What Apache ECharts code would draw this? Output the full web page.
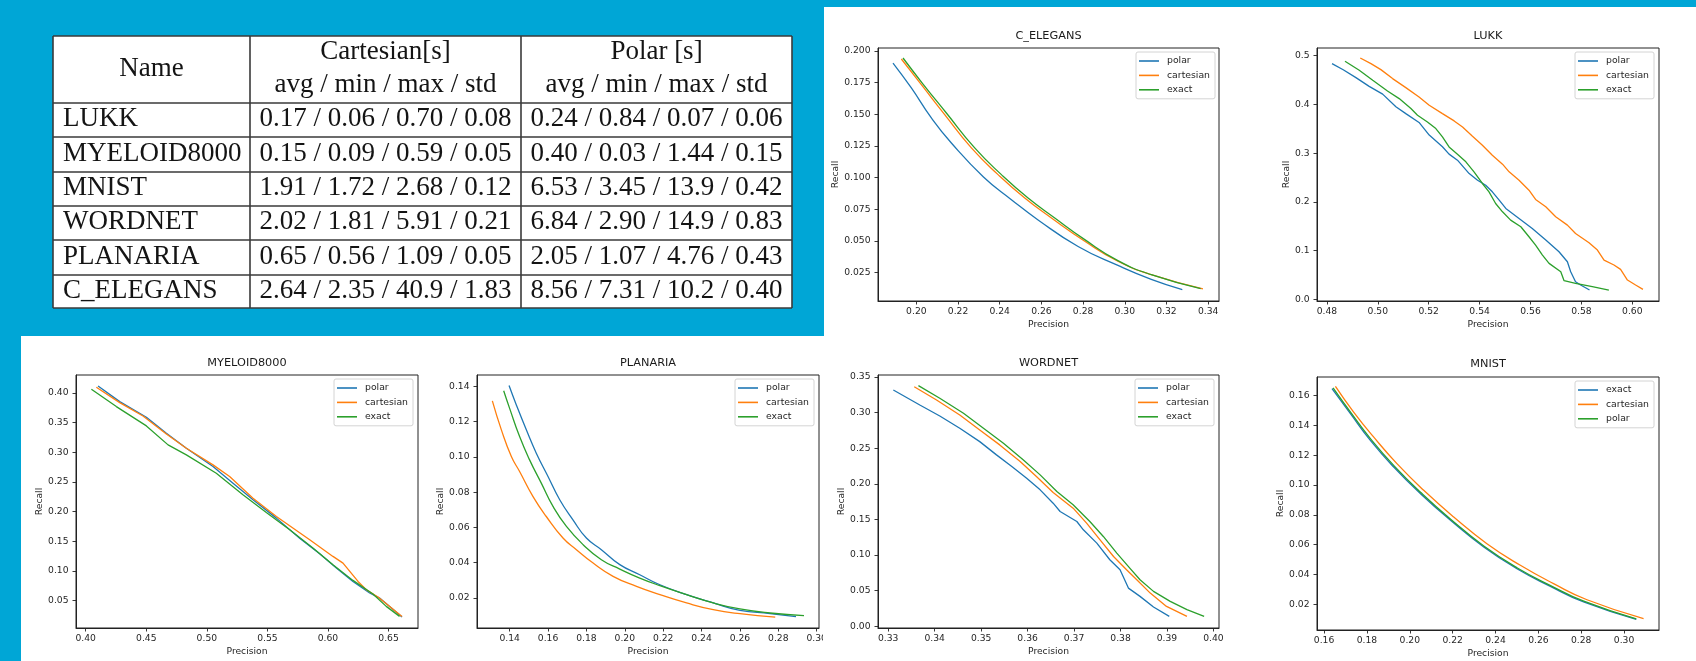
<!DOCTYPE html>
<html><head><meta charset="utf-8">
<script src="https://cdn.jsdelivr.net/npm/echarts@6.0.0/dist/echarts.min.js"></script>
<style>html,body{margin:0;padding:0;background:#00a6d6;overflow:hidden}#main{width:1696px;height:661px}</style>
</head><body><div id="main"></div>
<script>
// ---------- table data ----------
const tableHeaderName = 'Name';
const tableHeaderGroups = ['Cartesian[s]', 'Polar [s]'];
const tableHeaderStats = 'avg / min / max / std';
const tableNames = ['LUKK', 'MYELOID8000', 'MNIST', 'WORDNET', 'PLANARIA', 'C_ELEGANS'];
const cartesianStats = ['0.17 / 0.06 / 0.70 / 0.08', '0.15 / 0.09 / 0.59 / 0.05', '1.91 / 1.72 / 2.68 / 0.12', '2.02 / 1.81 / 5.91 / 0.21', '0.65 / 0.56 / 1.09 / 0.05', '2.64 / 2.35 / 40.9 / 1.83'];
const polarStats = ['0.24 / 0.84 / 0.07 / 0.06', '0.40 / 0.03 / 1.44 / 0.15', '6.53 / 3.45 / 13.9 / 0.42', '6.84 / 2.90 / 14.9 / 0.83', '2.05 / 1.07 / 4.76 / 0.43', '8.56 / 7.31 / 10.2 / 0.40'];

const xAxisTitle = 'Precision';
const yAxisTitle = 'Recall';

// ---------- C_ELEGANS ----------
const celegansPolar = [[0.1888,0.1905],[0.1976,0.1708],[0.2072,0.1471],[0.2168,0.1273],[0.2322,0.1005],[0.2456,0.0825],[0.2584,0.0665],[0.2776,0.0455],[0.2967,0.0305],[0.3127,0.0195],[0.3276,0.0114]];
const celegansCartesian = [[0.1928,0.1937],[0.2024,0.1734],[0.2136,0.1497],[0.2264,0.1234],[0.2392,0.1023],[0.252,0.0838],[0.2648,0.068],[0.2808,0.0496],[0.2967,0.0338],[0.3127,0.0232],[0.3375,0.012]];
const celegansExact = [[0.1936,0.1945],[0.2032,0.1739],[0.2144,0.151],[0.228,0.1234],[0.2408,0.1023],[0.2536,0.0838],[0.2664,0.068],[0.2808,0.0509],[0.2967,0.0343],[0.3127,0.0232],[0.3364,0.0122]];
const celegansXTicks = ['0.20','0.22','0.24','0.26','0.28','0.30','0.32','0.34'];
const celegansYTicks = ['0.025','0.050','0.075','0.100','0.125','0.150','0.175','0.200'];
const celegansXRange = [0.1816, 0.3452];
const celegansYRange = [0.0024, 0.2024];

// ---------- LUKK ----------
const lukkPolar = [[0.482,0.4836],[0.4864,0.471],[0.4914,0.455],[0.4966,0.437],[0.5019,0.421],[0.5071,0.395],[0.511,0.381],[0.5162,0.363],[0.5202,0.337],[0.5254,0.313],[0.528,0.298],[0.5313,0.2855],[0.5359,0.258],[0.5392,0.2445],[0.5424,0.234],[0.545,0.2206],[0.5477,0.2036],[0.5503,0.1865],[0.5555,0.166],[0.5607,0.1455],[0.566,0.1216],[0.5712,0.0977],[0.5745,0.0772],[0.5758,0.0567],[0.5777,0.0362],[0.5797,0.0294],[0.5832,0.0191]];
const lukkCartesian = [[0.4931,0.4952],[0.4973,0.4836],[0.5012,0.4713],[0.5058,0.4529],[0.511,0.4344],[0.5162,0.4153],[0.5202,0.3982],[0.5254,0.3811],[0.53,0.3661],[0.5333,0.3538],[0.5372,0.3347],[0.5411,0.3163],[0.545,0.2958],[0.549,0.2773],[0.5516,0.2616],[0.5555,0.2445],[0.5594,0.224],[0.562,0.2049],[0.566,0.1899],[0.5699,0.1694],[0.5745,0.1523],[0.5777,0.1352],[0.583,0.1161],[0.5863,0.1011],[0.5889,0.0806],[0.5928,0.0704],[0.5954,0.0615],[0.5981,0.0396],[0.6013,0.0294],[0.6042,0.0205]];
const lukkExact = [[0.4871,0.4884],[0.4927,0.47],[0.498,0.4495],[0.5038,0.4276],[0.5084,0.4119],[0.513,0.3914],[0.5156,0.3777],[0.5195,0.364],[0.5228,0.3504],[0.5254,0.3333],[0.528,0.3128],[0.5313,0.2978],[0.5346,0.2821],[0.5378,0.2616],[0.5411,0.2377],[0.5437,0.2206],[0.5463,0.1967],[0.549,0.1796],[0.5522,0.1626],[0.5562,0.1489],[0.5594,0.1284],[0.562,0.1113],[0.5647,0.0908],[0.5673,0.0738],[0.5719,0.0567],[0.5732,0.0383],[0.5777,0.0328],[0.5843,0.026],[0.5908,0.0191]];
const lukkXTicks = ['0.48','0.50','0.52','0.54','0.56','0.58','0.60'];
const lukkYTicks = ['0.0','0.1','0.2','0.3','0.4','0.5'];
const lukkXRange = [0.4761, 0.6105];
const lukkYRange = [-0.0034, 0.5157];

// ---------- MYELOID8000 ----------
const myeloidPolar = [[0.4102,0.4118],[0.4281,0.3854],[0.4501,0.359],[0.4666,0.332],[0.4831,0.3067],[0.5051,0.2758],[0.5216,0.2478],[0.5381,0.2197],[0.5574,0.1888],[0.5766,0.155],[0.5931,0.1287],[0.6069,0.1045],[0.6206,0.082],[0.6344,0.0624],[0.6426,0.0539],[0.6611,0.0219]];
const myeloidCartesian = [[0.4088,0.4096],[0.4281,0.3837],[0.4473,0.3612],[0.4666,0.3309],[0.4831,0.3067],[0.5051,0.2787],[0.5188,0.259],[0.5381,0.2225],[0.5574,0.1916],[0.5849,0.1522],[0.6041,0.1242],[0.6124,0.1129],[0.6248,0.082],[0.6316,0.068],[0.6413,0.0556],[0.6611,0.023]];
const myeloidExact = [[0.4047,0.4062],[0.4253,0.377],[0.4501,0.3444],[0.468,0.3124],[0.4831,0.2955],[0.5078,0.2646],[0.5298,0.2281],[0.5491,0.1983],[0.5684,0.1691],[0.5876,0.1382],[0.6041,0.1101],[0.6206,0.0837],[0.6371,0.0607],[0.6481,0.0399],[0.6591,0.023]];
const myeloidXTicks = ['0.40','0.45','0.50','0.55','0.60','0.65'];
const myeloidYTicks = ['0.05','0.10','0.15','0.20','0.25','0.30','0.35','0.40'];
const myeloidXRange = [0.392, 0.6743];
const myeloidYRange = [0.0034, 0.4303];

// ---------- PLANARIA ----------
const planariaPolar = [[0.1397,0.1404],[0.1435,0.1294],[0.1487,0.1153],[0.1539,0.1021],[0.16,0.0889],[0.1661,0.0757],[0.173,0.0643],[0.18,0.054],[0.1878,0.0474],[0.1974,0.0389],[0.2078,0.0332],[0.2183,0.0275],[0.2322,0.0219],[0.2461,0.0172],[0.26,0.013],[0.2757,0.0112],[0.2892,0.0094]];
const planariaCartesian = [[0.131,0.1317],[0.1357,0.1153],[0.1409,0.1002],[0.1452,0.0917],[0.1522,0.0775],[0.1591,0.0662],[0.1678,0.054],[0.1748,0.0474],[0.1835,0.0398],[0.1939,0.0323],[0.2061,0.0266],[0.2183,0.0219],[0.2322,0.0172],[0.2461,0.0134],[0.26,0.0111],[0.2784,0.0092]];
const planariaExact = [[0.1369,0.1375],[0.14,0.1275],[0.1452,0.1115],[0.1504,0.0983],[0.1565,0.0851],[0.1626,0.0719],[0.1696,0.0606],[0.1783,0.0502],[0.1878,0.0417],[0.1974,0.0364],[0.2078,0.0313],[0.2183,0.027],[0.2322,0.0219],[0.2461,0.0172],[0.26,0.0138],[0.2757,0.0115],[0.2934,0.01]];
const planariaXTicks = ['0.14','0.16','0.18','0.20','0.22','0.24','0.26','0.28','0.30'];
const planariaYTicks = ['0.02','0.04','0.06','0.08','0.10','0.12','0.14'];
const planariaXRange = [0.123, 0.3012];
const planariaYRange = [0.003, 0.1464];

// ---------- WORDNET ----------
const wordnetPolar = [[0.3311,0.3318],[0.3368,0.3107],[0.3411,0.2953],[0.3454,0.278],[0.3497,0.2593],[0.3533,0.2407],[0.3566,0.2243],[0.3598,0.2079],[0.3627,0.1916],[0.3655,0.1729],[0.367,0.1612],[0.3706,0.1472],[0.372,0.1355],[0.3749,0.1168],[0.3777,0.0935],[0.3799,0.0794],[0.3817,0.0537],[0.3842,0.0421],[0.3871,0.0271],[0.3905,0.014]];
const wordnetCartesian = [[0.3356,0.3364],[0.3404,0.3178],[0.3454,0.2967],[0.3497,0.2757],[0.354,0.2547],[0.3584,0.2313],[0.3619,0.2103],[0.3655,0.1879],[0.3698,0.1659],[0.3727,0.1449],[0.3756,0.1215],[0.3785,0.0981],[0.3813,0.0794],[0.3835,0.0654],[0.3864,0.0467],[0.3899,0.028],[0.3943,0.014]];
const wordnetExact = [[0.3365,0.3379],[0.3411,0.3201],[0.3462,0.2991],[0.3505,0.278],[0.3548,0.257],[0.3591,0.2336],[0.3627,0.2126],[0.3663,0.1893],[0.3698,0.1706],[0.3734,0.1472],[0.3763,0.1262],[0.3792,0.1028],[0.382,0.0818],[0.3842,0.0654],[0.3871,0.0491],[0.3907,0.035],[0.3943,0.0234],[0.398,0.014]];
const wordnetXTicks = ['0.33','0.34','0.35','0.36','0.37','0.38','0.39','0.40'];
const wordnetYTicks = ['0.00','0.05','0.10','0.15','0.20','0.25','0.30','0.35'];
const wordnetXRange = [0.3278, 0.4012];
const wordnetYRange = [-0.0023, 0.3528];

// ---------- MNIST ----------
const mnistExact = [[0.1637,0.1647],[0.1723,0.1479],[0.1816,0.13],[0.1925,0.1121],[0.205,0.0942],[0.219,0.0764],[0.2345,0.0585],[0.25,0.0439],[0.2656,0.0321],[0.2811,0.0216],[0.3057,0.01]];
const mnistCartesian = [[0.1653,0.1662],[0.1738,0.149],[0.1831,0.1323],[0.194,0.1144],[0.2065,0.0965],[0.2205,0.0786],[0.236,0.0607],[0.2516,0.0462],[0.2671,0.0339],[0.2827,0.0231],[0.3091,0.0104]];
const mnistPolar = [[0.1642,0.1652],[0.1726,0.1484],[0.182,0.1305],[0.1928,0.1127],[0.2053,0.0948],[0.2192,0.0769],[0.2347,0.059],[0.2502,0.0444],[0.2657,0.0326],[0.2812,0.0221],[0.3057,0.0102]];
const mnistXTicks = ['0.16','0.18','0.20','0.22','0.24','0.26','0.28','0.30'];
const mnistYTicks = ['0.02','0.04','0.06','0.08','0.10','0.12','0.14','0.16'];
const mnistXRange = [0.1567, 0.3163];
const mnistYRange = [0.0028, 0.1725];

// ---------- assemble ----------
const charts = [
  {title:'C_ELEGANS', names:['polar','cartesian','exact'], series:[celegansPolar,celegansCartesian,celegansExact], xTicks:celegansXTicks, yTicks:celegansYTicks, xRange:celegansXRange, yRange:celegansYRange},
  {title:'LUKK', names:['polar','cartesian','exact'], series:[lukkPolar,lukkCartesian,lukkExact], xTicks:lukkXTicks, yTicks:lukkYTicks, xRange:lukkXRange, yRange:lukkYRange},
  {title:'MYELOID8000', names:['polar','cartesian','exact'], series:[myeloidPolar,myeloidCartesian,myeloidExact], xTicks:myeloidXTicks, yTicks:myeloidYTicks, xRange:myeloidXRange, yRange:myeloidYRange},
  {title:'PLANARIA', names:['polar','cartesian','exact'], series:[planariaPolar,planariaCartesian,planariaExact], xTicks:planariaXTicks, yTicks:planariaYTicks, xRange:planariaXRange, yRange:planariaYRange},
  {title:'WORDNET', names:['polar','cartesian','exact'], series:[wordnetPolar,wordnetCartesian,wordnetExact], xTicks:wordnetXTicks, yTicks:wordnetYTicks, xRange:wordnetXRange, yRange:wordnetYRange},
  {title:'MNIST', names:['exact','cartesian','polar'], series:[mnistExact,mnistCartesian,mnistPolar], xTicks:mnistXTicks, yTicks:mnistYTicks, xRange:mnistXRange, yRange:mnistYRange}
];

const layouts = [
  {box:[878,48,341,253], titleY:37, yNameGap:37, legendPos:[1136,52], smooth:true},
  {box:[1317,48,342,253], titleY:37, yNameGap:26, legendPos:[1575,52], smooth:false},
  {box:[76,375,342,253], titleY:364, yNameGap:32, legendPos:[334,379], smooth:false},
  {box:[477,375,342,253], titleY:364, yNameGap:32, legendPos:[735,379], smooth:true},
  {box:[878,375,341,253], titleY:364, yNameGap:32, legendPos:[1135,379], smooth:false},
  {box:[1317,377,342,253], titleY:365, yNameGap:32, legendPos:[1575,381], smooth:true}
];

const palette = ['#1f77b4', '#ff7f0e', '#2ca02c'];
const FONT = '"DejaVu Sans", sans-serif';
const TXT = '#262626';
const SPINE = '#222';

function labelFor(list) {
  return function (v) {
    const s = list.find(t => Math.abs(Number(t) - v) < 1e-9);
    return s === undefined ? '' : s;
  };
}

const grid = [], xAxis = [], yAxis = [], title = [], legend = [], series = [];
charts.forEach((c, i) => {
  const L = layouts[i];
  const [gl, gt, gw, gh] = L.box;
  grid.push({left: gl, top: gt, width: gw, height: gh, show: true, borderColor: SPINE, borderWidth: 1, backgroundColor: 'transparent', containLabel: false});
  const xVals = c.xTicks.map(Number), yVals = c.yTicks.map(Number);
  xAxis.push({
    type: 'value', gridIndex: i, min: c.xRange[0], max: c.xRange[1],
    axisLine: {show: true, onZero: false, lineStyle: {color: SPINE, width: 1}},
    splitLine: {show: false},
    axisTick: {show: true, inside: false, length: 3.5, customValues: xVals, lineStyle: {color: SPINE, width: 0.9}},
    axisLabel: {show: true, customValues: xVals, formatter: labelFor(c.xTicks), margin: 6.5, fontSize: 9.2, color: TXT, fontFamily: FONT, hideOverlap: false},
    name: xAxisTitle, nameLocation: 'middle', nameGap: 19,
    nameTextStyle: {fontSize: 9.2, color: TXT, fontFamily: FONT}
  });
  yAxis.push({
    type: 'value', gridIndex: i, min: c.yRange[0], max: c.yRange[1],
    axisLine: {show: true, onZero: false, lineStyle: {color: SPINE, width: 1}},
    splitLine: {show: false},
    axisTick: {show: true, inside: false, length: 3.5, customValues: yVals, lineStyle: {color: SPINE, width: 0.9}},
    axisLabel: {show: true, customValues: yVals, formatter: labelFor(c.yTicks), margin: 7.5, fontSize: 9.2, color: TXT, fontFamily: FONT, hideOverlap: false},
    name: yAxisTitle, nameLocation: 'middle', nameRotate: 90, nameGap: L.yNameGap,
    nameTextStyle: {fontSize: 9.2, color: TXT, fontFamily: FONT}
  });
  title.push({
    text: c.title, left: gl + gw / 2, top: L.titleY - 6, textAlign: 'center', padding: 0,
    textStyle: {fontSize: 11.3, fontWeight: 'normal', color: '#1a1a1a', fontFamily: FONT}
  });
  legend.push({
    orient: 'vertical', left: L.legendPos[0], top: L.legendPos[1],
    selectedMode: false, icon: 'rect', itemWidth: 20, itemHeight: 1.6, itemGap: 2.4,
    padding: [3, 5, 3, 3],
    backgroundColor: '#ffffff', borderColor: '#d4d4d4', borderWidth: 1, borderRadius: 2,
    textStyle: {fontSize: 9.3, color: TXT, fontFamily: FONT, lineHeight: 12, padding: [0, 0, 0, 3]},
    data: c.names.map((n, k) => ({name: n, icon: 'rect', itemStyle: {color: palette[k], borderWidth: 0}}))
  });
  c.series.forEach((d, k) => {
    series.push({
      type: 'line', name: c.names[k], xAxisIndex: i, yAxisIndex: i, data: d,
      symbol: 'none', showSymbol: false,
      smooth: L.smooth ? 0.5 : false,
      lineStyle: {width: 1.3, color: palette[k]}, itemStyle: {color: palette[k]},
      clip: true, z: 2 + k * 0.01, silent: true
    });
  });
});

// ---------- table + panels (graphic) ----------
const graphic = [];
graphic.push({type: 'rect', shape: {x: 824, y: 7, width: 872, height: 654}, style: {fill: '#ffffff'}, z: -20, silent: true});
graphic.push({type: 'rect', shape: {x: 21, y: 336, width: 803, height: 325}, style: {fill: '#ffffff'}, z: -20, silent: true});
graphic.push({type: 'rect', shape: {x: 823, y: 631, width: 22, height: 18}, style: {fill: '#ffffff'}, z: 100, silent: true});

const tX = [53, 250, 521, 792];
const tY = [36, 103, 137, 172, 206, 240, 275, 308];
graphic.push({type: 'rect', shape: {x: tX[0], y: tY[0], width: tX[3] - tX[0], height: tY[7] - tY[0]}, style: {fill: '#ffffff'}, z: 1, silent: true});
tY.forEach(y => graphic.push({type: 'line', shape: {x1: tX[0], y1: y, x2: tX[3], y2: y}, style: {stroke: '#3a3a3a', lineWidth: 1.6}, z: 3, silent: true}));
tX.forEach(x => graphic.push({type: 'line', shape: {x1: x, y1: tY[0], x2: x, y2: tY[7]}, style: {stroke: '#3a3a3a', lineWidth: 1.6}, z: 3, silent: true}));

const SERIF = '27px "Liberation Serif", "Times New Roman", serif';
function tText(text, x, y, align) {
  graphic.push({type: 'text', x: x, y: y, z: 4, silent: true,
    style: {text: text, font: SERIF, fill: '#141414', align: align, verticalAlign: 'middle', textAlign: align, textVerticalAlign: 'middle'}});
}
const col2c = (tX[1] + tX[2]) / 2, col3c = (tX[2] + tX[3]) / 2;
tText(tableHeaderName, (tX[0] + tX[1]) / 2, 69, 'center');
tText(tableHeaderGroups[0], col2c, 52, 'center');
tText(tableHeaderGroups[1], col3c, 52, 'center');
tText(tableHeaderStats, col2c, 85, 'center');
tText(tableHeaderStats, col3c, 85, 'center');
tableNames.forEach((n, r) => {
  const yc = (tY[r + 1] + tY[r + 2]) / 2 - 1;
  tText(n, 63, yc, 'left');
  tText(cartesianStats[r], col2c, yc, 'center');
  tText(polarStats[r], col3c, yc, 'center');
});

const chart = echarts.init(document.getElementById('main'), null, {renderer: 'canvas'});
chart.setOption({
  animation: false,
  backgroundColor: '#00a6d6',
  title: title, grid: grid, xAxis: xAxis, yAxis: yAxis, legend: legend, series: series,
  graphic: {elements: graphic}
});
</script>
</body></html>
